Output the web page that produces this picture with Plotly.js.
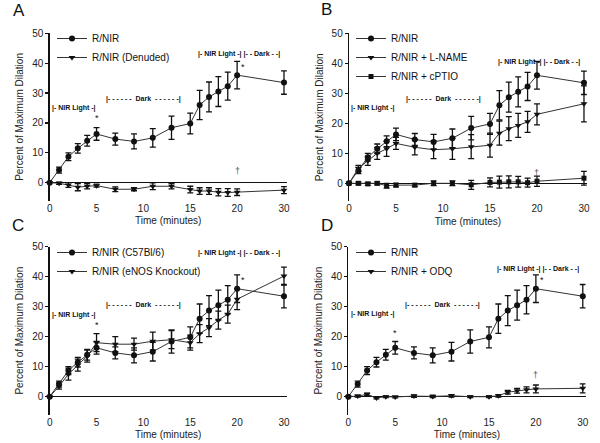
<!DOCTYPE html>
<html>
<head>
<meta charset="utf-8">
<script src="https://cdn.plot.ly/plotly-3.0.1.min.js"></script>
<style>html,body{margin:0;padding:0;background:#fff}#chart{width:600px;height:443px}</style>
</head>
<body>
<div id="chart"></div>
<script>
// ---- data ----
const time = [0, 1, 2, 3, 4, 5, 7, 9, 11, 13, 15, 16, 17, 18, 19, 20, 30];
const xTickLabels = [0, 5, 10, 15, 20, 30];

const rnir      = [0, 4.2, 8.7, 11.5, 14, 16.3, 14.6, 13.8, 15, 18.4, 19.8, 26, 28.7, 30.5, 32.3, 36, 33.5];
const rnirErr   = [0, 1, 1.3, 1.6, 1.8, 2.1, 2, 2.5, 3.1, 3.9, 3.5, 4.9, 5, 5, 4.7, 4.6, 3.9];

const denuded    = [0, -0.2, -0.8, -1.5, -1.2, -1, -2.2, -2.2, -1.2, -1.2, -2.3, -2.8, -2.8, -3.2, -3.3, -3.2, -2.5];
const denudedErr = [0, 0.4, 0.8, 1.2, 0.9, 0.5, 0.8, 0.5, 1.1, 0.9, 1.1, 1.1, 1.1, 1.2, 1.3, 1.1, 1.2];

const lname    = [0, 5, 7.5, 10, 11.5, 13.3, 12, 11.2, 11.5, 12.2, 12.7, 16.7, 18.2, 19.3, 20.5, 23, 26.5];
const lnameErr = [0, 1, 1.5, 2, 2.5, 2, 2.5, 3, 3.5, 4, 4, 4, 4, 4, 3.5, 3.5, 6];

const cptio    = [0, 0, -0.2, 0, -0.8, -0.6, -0.6, 0, 0, -0.5, 0.3, 0.4, 0.5, 0.5, 0.2, 0.7, 1.7];
const cptioErr = [0, 0.5, 0.5, 0.5, 0.8, 0.6, 0.5, 0.8, 0.8, 1.5, 1.5, 2, 2, 1.8, 1.5, 1.7, 2.3];

const enos    = [0, 3.5, 7.5, 10.5, 13.5, 18, 17.5, 17.5, 18.5, 19, 18, 21, 23, 25.5, 27.5, 32.5, 40.2];
const enosErr = [0, 1, 2, 2, 2, 3, 2.5, 2, 3, 3, 2.5, 3, 3, 3, 3, 3.5, 3];

const odq    = [0, 0.2, 0.8, -0.4, 0, -0.1, 0.2, 0.1, 0.3, 0, 0, 0.3, 1.5, 2, 2.3, 2.6, 2.8];
const odqErr = [0, 0.3, 0.4, 0.3, 0.3, 0.3, 0.4, 0.4, 0.4, 0.3, 0.3, 0.4, 0.6, 0.8, 1, 1.3, 1.5];

// broken time axis: 20 -> 30 minutes drawn over half the spacing
const pos = t => (t <= 20 ? t : 20 + (t - 20) / 2);
const xPos = time.map(pos);

const FONT = "Liberation Sans, Arial, sans-serif";
const INK = "#111";

function series(y, err, name, symbol, axisIdx, legendId, size) {
  const s = axisIdx === 1 ? "" : String(axisIdx);
  return {
    type: "scatter", mode: "lines+markers",
    x: xPos, y: y, name: name,
    xaxis: "x" + s, yaxis: "y" + s, legend: legendId,
    cliponaxis: false,
    line: { color: "#333", width: 1 },
    marker: { symbol: symbol, size: size || 6, color: INK },
    error_y: { type: "data", array: err, visible: true, color: INK, thickness: 1.3, width: 3 }
  };
}

const data = [
  series(rnir, rnirErr, "R/NIR", "circle", 1, "legend"),
  series(denuded, denudedErr, "R/NIR (Denuded)", "triangle-down", 1, "legend"),
  series(rnir, rnirErr, "R/NIR", "circle", 2, "legend2"),
  series(lname, lnameErr, "R/NIR + L-NAME", "triangle-down", 2, "legend2"),
  series(cptio, cptioErr, "R/NIR + cPTIO", "square", 2, "legend2", 5),
  series(rnir, rnirErr, "R/NIR (C57Bl/6)", "circle", 3, "legend3"),
  series(enos, enosErr, "R/NIR (eNOS Knockout)", "triangle-down", 3, "legend3"),
  series(rnir, rnirErr, "R/NIR", "circle", 4, "legend4"),
  series(odq, odqErr, "R/NIR + ODQ", "triangle-down", 4, "legend4")
];

const tickFont = { family: FONT, size: 10, color: "#222" };
function xAxis(domain, anchor) {
  return {
    domain: domain, anchor: anchor, range: [0, 25.3],
    tickvals: xTickLabels.map(pos), ticktext: xTickLabels.map(String),
    showline: false, showgrid: false, zeroline: false, ticks: "",
    tickfont: tickFont,
    title: { text: "Time (minutes)", font: { family: FONT, size: 10, color: "#222" }, standoff: 4 }
  };
}
function yAxis(domain, anchor) {
  return {
    domain: domain, anchor: anchor, range: [-6, 50],
    tickvals: [0, 10, 20, 30, 40, 50],
    showline: true, linecolor: INK, linewidth: 1.3,
    ticks: "outside", ticklen: 3, tickcolor: INK, tickwidth: 1.2,
    showgrid: false, zeroline: true, zerolinecolor: INK, zerolinewidth: 1.3,
    tickfont: tickFont,
    title: { text: "Percent of Maximum Dilation", font: { family: FONT, size: 10, color: "#222" }, standoff: 6 }
  };
}

const legFont = { family: FONT, size: 10, color: "#111" };
function legend(x, y) {
  return { x: x, y: y, xanchor: "left", yanchor: "top", bgcolor: "rgba(0,0,0,0)", font: legFont, borderwidth: 0, tracegroupgap: 0 };
}

const annFont = { family: FONT, size: 7, color: "#111", weight: "bold" };
const NIR = "|- NIR Light -|";
const DARK = "|- - - - - -  Dark  - - - - - -|";
const NIR2 = "|- NIR Light -| |- - Dark - -|";

function panelAnn(s, items) {
  const xr = "x" + s, yr = "y" + s;
  return items.map(it => Object.assign({ xref: xr, yref: yr, showarrow: false, font: annFont }, it));
}

const annotations = [].concat(
  panelAnn("", [
    { x: 2.6, y: 25, text: NIR },
    { x: 10, y: 28, text: DARK },
    { x: 20.2, y: 43.2, text: NIR2 },
    { x: 5, y: 21.6, text: "*", font: { family: FONT, size: 9, color: "#111" } },
    { x: 20.6, y: 38.8, text: "*", font: { family: FONT, size: 9, color: "#111" } },
    { x: 20, y: 3.8, text: "†", font: { family: FONT, size: 9, color: "#555" } }
  ]),
  panelAnn("2", [
    { x: 2.6, y: 25, text: NIR },
    { x: 10, y: 28, text: DARK },
    { x: 20.2, y: 40.5, text: NIR2 },
    { x: 20, y: 3.6, text: "†", font: { family: FONT, size: 9, color: "#555" } }
  ]),
  panelAnn("3", [
    { x: 2.6, y: 27.2, text: NIR },
    { x: 10, y: 30.5, text: DARK },
    { x: 20.2, y: 47.8, text: NIR2 },
    { x: 5, y: 23.9, text: "*", font: { family: FONT, size: 9, color: "#111" } },
    { x: 20.6, y: 38.9, text: "*", font: { family: FONT, size: 9, color: "#111" } }
  ]),
  panelAnn("4", [
    { x: 2.6, y: 27.5, text: NIR },
    { x: 10, y: 30.5, text: DARK },
    { x: 20.2, y: 42.6, text: NIR2 },
    { x: 5, y: 21.3, text: "*", font: { family: FONT, size: 9, color: "#111" } },
    { x: 20.6, y: 38.8, text: "*", font: { family: FONT, size: 9, color: "#111" } },
    { x: 20, y: 7.2, text: "†", font: { family: FONT, size: 9, color: "#555" } }
  ]),
  [
    { text: "A", x: 19 / 600, y: 1 - 11 / 443 },
    { text: "B", x: 326 / 600, y: 1 - 10 / 443 },
    { text: "C", x: 18 / 600, y: 1 - 226 / 443 },
    { text: "D", x: 327 / 600, y: 1 - 226 / 443 }
  ].map(a => Object.assign({ xref: "paper", yref: "paper", showarrow: false, xanchor: "center", yanchor: "middle",
    font: { family: FONT, size: 17, color: "#111" } }, a))
);

const layout = {
  width: 600, height: 443,
  margin: { l: 0, r: 0, t: 0, b: 0 },
  paper_bgcolor: "#fff", plot_bgcolor: "#fff",
  font: { family: FONT, color: "#222" },
  xaxis: xAxis([0.0828, 0.478], "y"),
  yaxis: yAxis([0.5472, 0.9248], "x"),
  xaxis2: xAxis([0.5817, 0.978], "y2"),
  yaxis2: yAxis([0.5456, 0.9248], "x2"),
  xaxis3: xAxis([0.0828, 0.478], "y3"),
  yaxis3: yAxis([0.0639, 0.4431], "x3"),
  xaxis4: xAxis([0.5805, 0.976], "y4"),
  yaxis4: yAxis([0.0639, 0.4431], "x4"),
  legend: legend(52 / 600, 1 - 24 / 443),
  legend2: legend(351 / 600, 1 - 24 / 443),
  legend3: legend(52 / 600, 1 - 238 / 443),
  legend4: legend(351 / 600, 1 - 238 / 443),
  annotations: annotations,
  showlegend: true
};

Plotly.newPlot("chart", data, layout, { displayModeBar: false, staticPlot: true });
</script>
</body>
</html>
